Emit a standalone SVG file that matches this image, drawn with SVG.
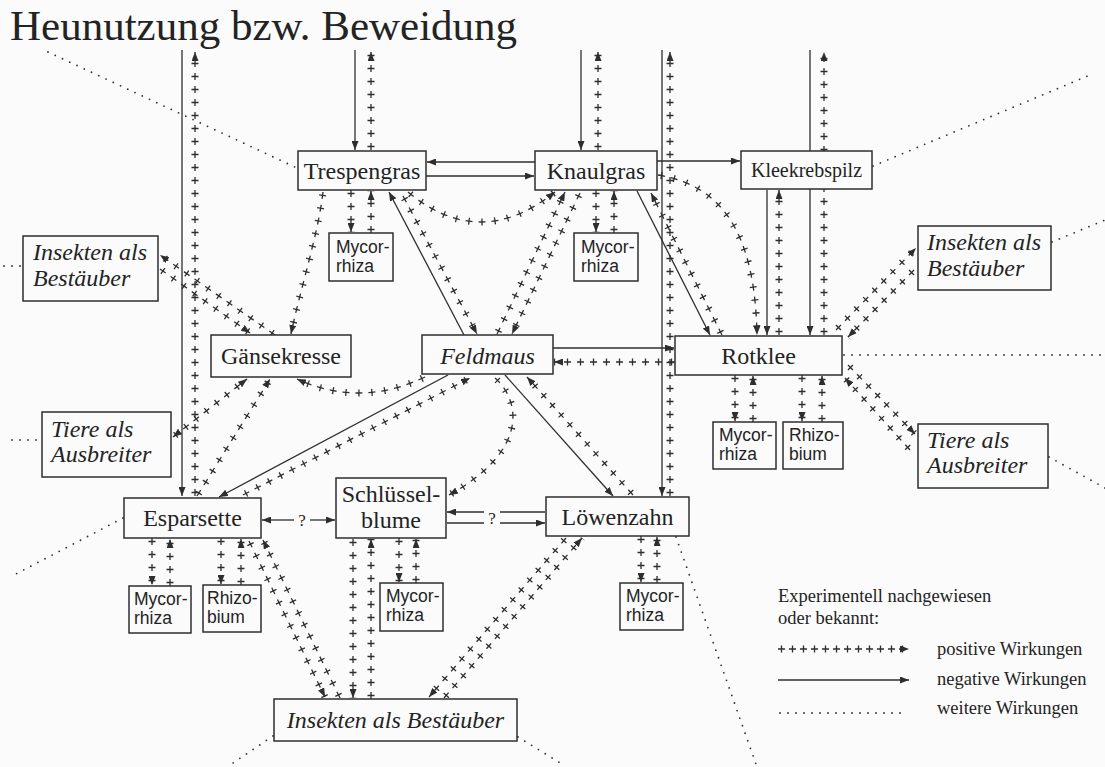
<svg xmlns="http://www.w3.org/2000/svg" width="1105" height="767" viewBox="0 0 1105 767">
<style>
.bg{fill:#fbfbfb}
.box{fill:#fbfbfb;stroke:#2e2e2e;stroke-width:1.5}
.t{font-family:"Liberation Serif","Times New Roman",serif;fill:#232323}
.main{font-size:24px;text-anchor:middle}
.it{font-style:italic;font-size:24px}
.lg{font-size:18.5px}
.s{font-family:"Liberation Sans",Arial,sans-serif;font-size:17.5px;fill:#232323}
.neg{fill:none;stroke:#2e2e2e;stroke-width:1.3;marker-end:url(#ah)}
.pa{fill:none;stroke:#2e2e2e;stroke-width:1.3;stroke-dasharray:7 6;marker-end:url(#ah)}
.pb{fill:none;stroke:#2e2e2e;stroke-width:7;stroke-dasharray:0 2.85 1.3 8.85}
.pa2{fill:none;stroke:#2e2e2e;stroke-width:1.3;stroke-dasharray:7 4;marker-end:url(#ah)}
.pb2{fill:none;stroke:#2e2e2e;stroke-width:7;stroke-dasharray:0 2.85 1.3 6.85}
.dot{fill:none;stroke:#2e2e2e;stroke-width:1.8;stroke-linecap:round;stroke-dasharray:0 8}
.ln{fill:none;stroke:#2e2e2e;stroke-width:1.3}
</style>
<defs>
<marker id="ah" markerWidth="9" markerHeight="7" refX="9" refY="3.5" orient="auto" markerUnits="userSpaceOnUse"><path d="M0,0 L9,3.5 L0,7 z" fill="#2e2e2e"/></marker>
<marker id="ahs" markerWidth="9" markerHeight="7" refX="9" refY="3.5" orient="auto-start-reverse" markerUnits="userSpaceOnUse"><path d="M0,0 L9,3.5 L0,7 z" fill="#2e2e2e"/></marker>
</defs>
<rect class="bg" x="0" y="0" width="1105" height="767"/>
<text class="t" x="10" y="40" style="font-size:43px">Heunutzung bzw. Beweidung</text>

<g id="connectors">
<!-- weitere Wirkungen (dotted) -->
<path class="dot" d="M48 52L297 168"/>
<path class="dot" d="M873 166L1090 75"/>
<path class="dot" d="M4 266H22"/>
<path class="dot" d="M12 440H41"/>
<path class="dot" d="M844 355H1105"/>
<path class="dot" d="M1052 242L1105 220"/>
<path class="dot" d="M1049 457L1105 488"/>
<path class="dot" d="M123 518L12 576"/>
<path class="dot" d="M273 736L230 765"/>
<path class="dot" d="M518 737L562 764"/>
<path class="dot" d="M676 537L757 767"/>

<!-- negative Wirkungen (solid) -->
<path class="neg" d="M182 50V496"/>
<path class="neg" d="M355 50V150"/>
<path class="neg" d="M581 50V150"/>
<path class="neg" d="M662 50V496"/>
<path class="neg" d="M810 50V335"/>
<path class="neg" d="M767 190V335"/>
<path class="neg" d="M535 162H427"/>
<path class="neg" d="M426 176H534"/>
<path class="neg" d="M657 161H740"/>
<path class="neg" d="M553 348H674"/>
<path class="neg" d="M464 335L389 192"/>
<path class="neg" d="M637 191L710 335"/>
<path class="neg" d="M505 375L613 496"/>
<path class="neg" d="M448 375L219 497"/>

<!-- unknown (?) -->
<path class="neg" d="M294 520H262"/>
<path class="neg" d="M310 520H335"/>
<path class="neg" d="M484 512H447"/>
<path class="ln" d="M500 512H545"/>
<path class="ln" d="M447 523H484"/>
<path class="neg" d="M500 523H545"/>
<text class="t" x="302" y="526" style="font-size:17px;text-anchor:middle">?</text>
<text class="t" x="492" y="524" style="font-size:17px;text-anchor:middle">?</text>

<!-- positive Wirkungen (+ + +) -->
<path class="pb" d="M195 496V52"/><path class="pa" d="M195 496V52"/>
<path class="pb" d="M371 150V52"/><path class="pa" d="M371 150V52"/>
<path class="pb" d="M598 150V52"/><path class="pa" d="M598 150V52"/>
<path class="pb" d="M670 496V52"/><path class="pa" d="M670 496V52"/>
<path class="pb" d="M824 335V52"/><path class="pa" d="M824 335V52"/>
<path class="pb" d="M779 335V190"/><path class="pa" d="M779 335V190"/>
<path class="pb" d="M675 362H554"/><path class="pa" d="M675 362H554"/>
<path class="pb" d="M351 190V232"/><path class="pa" d="M351 190V232"/>
<path class="pb" d="M371 233V191"/><path class="pa" d="M371 233V191"/>
<path class="pb" d="M596 190V232"/><path class="pa" d="M596 190V232"/>
<path class="pb" d="M614 233V191"/><path class="pa" d="M614 233V191"/>
<path class="pb" d="M735 375V421"/><path class="pa" d="M735 375V421"/>
<path class="pb" d="M753 422V376"/><path class="pa" d="M753 422V376"/>
<path class="pb" d="M802 375V421"/><path class="pa" d="M802 375V421"/>
<path class="pb" d="M822 422V376"/><path class="pa" d="M822 422V376"/>
<path class="pb" d="M152 538V585"/><path class="pa" d="M152 538V585"/>
<path class="pb" d="M170 586V539"/><path class="pa" d="M170 586V539"/>
<path class="pb" d="M221 538V584"/><path class="pa" d="M221 538V584"/>
<path class="pb" d="M241 585V539"/><path class="pa" d="M241 585V539"/>
<path class="pb" d="M399 538V582"/><path class="pa" d="M399 538V582"/>
<path class="pb" d="M416 583V539"/><path class="pa" d="M416 583V539"/>
<path class="pb" d="M353 539V698"/><path class="pa" d="M353 539V698"/>
<path class="pb" d="M371 699V539"/><path class="pa" d="M371 699V539"/>
<path class="pb" d="M641 536V582"/><path class="pa" d="M641 536V582"/>
<path class="pb" d="M657 583V537"/><path class="pa" d="M657 583V537"/>
<path class="pb" d="M323 192C318 235 300 290 291 334"/><path class="pa" d="M323 192C318 235 300 290 291 334"/>
<path class="pb" d="M408 192Q480 252 555 192"/><path class="pa" d="M408 192Q480 252 555 192"/>
<path class="pb" d="M403 196L477 334"/><path class="pa" d="M403 196L477 334"/>
<path class="pb" d="M580 193L512 334"/><path class="pa" d="M580 193L512 334"/>
<path class="pb" d="M497 334L565 192"/><path class="pa" d="M497 334L565 192"/>
<path class="pb" d="M722 335L651 193"/><path class="pa" d="M722 335L651 193"/>
<path class="pb" d="M658 175C720 185 755 230 757 335"/><path class="pa" d="M658 175C720 185 755 230 757 335"/>
<path class="pb" d="M836 330L916 248"/><path class="pa" d="M836 330L916 248"/>
<path class="pb" d="M914 270L848 337"/><path class="pa" d="M914 270L848 337"/>
<path class="pb" d="M848 365L915 434"/><path class="pa" d="M848 365L915 434"/>
<path class="pb" d="M910 450L845 378"/><path class="pa" d="M910 450L845 378"/>
<path class="pb" d="M425 377Q360 408 297 379"/><path class="pa" d="M425 377Q360 408 297 379"/>
<path class="pb" d="M243 495L470 378"/><path class="pa" d="M243 495L470 378"/>
<path class="pb" d="M495 378C520 400 530 450 449 495"/><path class="pa" d="M495 378C520 400 530 450 449 495"/>
<path class="pb" d="M633 495L527 377"/><path class="pa" d="M633 495L527 377"/>
<path class="pb" d="M197 496L270 379"/><path class="pa" d="M197 496L270 379"/>
<path class="pb" d="M173 437L247 379"/><path class="pa" d="M173 437L247 379" style="marker-start:url(#ahs)"/>
<path class="pb" d="M275 335L160 255"/><path class="pa" d="M275 335L160 255"/>
<path class="pb" d="M160 269L250 333"/><path class="pa" d="M160 269L250 333"/>
<path class="pb" d="M249 541L325 697"/><path class="pa" d="M249 541L325 697"/>
<path class="pb" d="M340 698L263 540"/><path class="pa" d="M340 698L263 540"/>
<path class="pb" d="M566 538L429 697"/><path class="pa" d="M566 538L429 697"/>
<path class="pb" d="M444 698L582 538"/><path class="pa" d="M444 698L582 538"/>
</g>

<g id="n-trespengras"><rect class="box" x="298" y="151" width="128" height="39"/><text class="t main" x="362" y="179">Trespengras</text></g>
<g id="n-knaulgras"><rect class="box" x="535" y="151" width="122" height="39"/><text class="t main" x="596" y="179">Knaulgras</text></g>
<g id="n-kleekrebspilz"><rect class="box" x="741" y="151" width="131" height="38"/><text class="t main" x="806.5" y="177" style="font-size:20px">Kleekrebspilz</text></g>
<g id="n-insekten-links"><rect class="box" x="23" y="236" width="135" height="65"/><text class="t it" x="33" y="260">Insekten als</text><text class="t it" x="33" y="286">Bestäuber</text></g>
<g id="n-insekten-rechts"><rect class="box" x="918" y="226" width="133" height="64"/><text class="t it" x="927" y="250">Insekten als</text><text class="t it" x="927" y="276">Bestäuber</text></g>
<g id="n-gaensekresse"><rect class="box" x="211" y="335" width="140" height="42"/><text class="t main" x="281" y="364">Gänsekresse</text></g>
<g id="n-feldmaus"><rect class="box" x="422" y="335" width="131" height="39"/><text class="t main" x="487.5" y="364" style="font-style:italic">Feldmaus</text></g>
<g id="n-rotklee"><rect class="box" x="675" y="336" width="167" height="39"/><text class="t main" x="758.5" y="364">Rotklee</text></g>
<g id="n-tiere-links"><rect class="box" x="42" y="412" width="129" height="65"/><text class="t it" x="51" y="437">Tiere als</text><text class="t it" x="51" y="462">Ausbreiter</text></g>
<g id="n-tiere-rechts"><rect class="box" x="918" y="424" width="130" height="64"/><text class="t it" x="927" y="448">Tiere als</text><text class="t it" x="927" y="473">Ausbreiter</text></g>
<g id="n-esparsette"><rect class="box" x="124" y="498" width="137" height="40"/><text class="t main" x="192.5" y="526">Esparsette</text></g>
<g id="n-schluesselblume"><rect class="box" x="336" y="478" width="110" height="60"/><text class="t main" x="391" y="502">Schlüssel-</text><text class="t main" x="391" y="528">blume</text></g>
<g id="n-loewenzahn"><rect class="box" x="546" y="497" width="143" height="39"/><text class="t main" x="617.5" y="525">Löwenzahn</text></g>
<g id="n-insekten-unten"><rect class="box" x="274" y="699" width="243" height="42"/><text class="t main" x="395.5" y="728" style="font-style:italic">Insekten als Bestäuber</text></g>

<g id="n-mycorrhiza-trespengras"><rect class="box" x="329" y="233" width="64" height="48"/><text class="s" x="336" y="253">Mycor-</text><text class="s" x="336" y="272">rhiza</text></g>
<g id="n-mycorrhiza-knaulgras"><rect class="box" x="574" y="233" width="64" height="48"/><text class="s" x="581" y="253">Mycor-</text><text class="s" x="581" y="272">rhiza</text></g>
<g id="n-mycorrhiza-rotklee"><rect class="box" x="713" y="422" width="63" height="47"/><text class="s" x="719" y="441">Mycor-</text><text class="s" x="719" y="460">rhiza</text></g>
<g id="n-rhizobium-rotklee"><rect class="box" x="783" y="422" width="60" height="47"/><text class="s" x="789" y="441">Rhizo-</text><text class="s" x="789" y="460">bium</text></g>
<g id="n-mycorrhiza-esparsette"><rect class="box" x="129" y="586" width="62" height="47"/><text class="s" x="134" y="605">Mycor-</text><text class="s" x="134" y="624">rhiza</text></g>
<g id="n-rhizobium-esparsette"><rect class="box" x="203" y="585" width="58" height="47"/><text class="s" x="207" y="604">Rhizo-</text><text class="s" x="207" y="623">bium</text></g>
<g id="n-mycorrhiza-schluesselblume"><rect class="box" x="380" y="583" width="63" height="48"/><text class="s" x="386" y="602">Mycor-</text><text class="s" x="386" y="621">rhiza</text></g>
<g id="n-mycorrhiza-loewenzahn"><rect class="box" x="620" y="583" width="63" height="47"/><text class="s" x="626" y="602">Mycor-</text><text class="s" x="626" y="621">rhiza</text></g>

<g id="legend">
<text class="t lg" x="778" y="602">Experimentell nachgewiesen</text>
<text class="t lg" x="778" y="624">oder bekannt:</text>
<path class="pb2" d="M778 649H909"/><path class="pa2" d="M778 649H909"/>
<path class="neg" d="M778 680H909"/>
<path class="dot" d="M780 713H906"/>
<text class="t lg" x="937" y="655">positive Wirkungen</text>
<text class="t lg" x="937" y="685">negative Wirkungen</text>
<text class="t lg" x="937" y="714">weitere Wirkungen</text>
</g>
</svg>
